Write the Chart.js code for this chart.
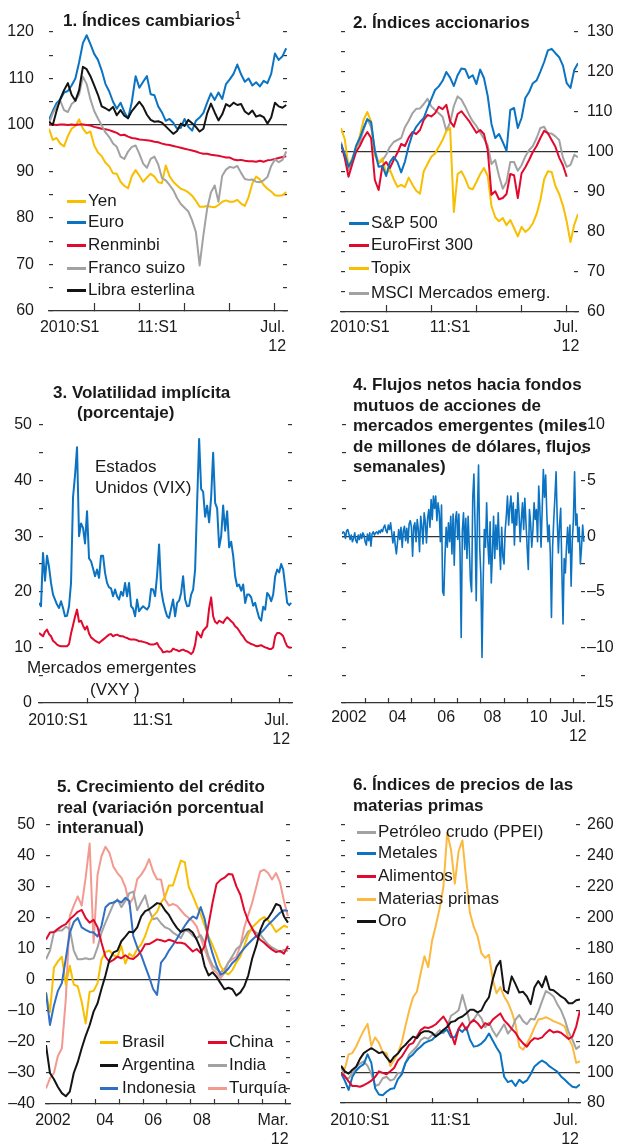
<!DOCTYPE html>
<html>
<head>
    <meta charset="utf-8">
    <title>Índices cambiarios, acciones, volatilidad, flujos, crédito y materias primas</title>
    <script src="https://cdn.jsdelivr.net/npm/chart.js"></script>
    <style>
        body { margin: 0; background: #fff; }
        #page {
            position: relative; width: 624px; height: 1148px; overflow: hidden;
            font-family: "Liberation Sans", Arial, sans-serif; color: #1a1a1a;
        }
        #page canvas { position: absolute; }
        .title { position: absolute; font-weight: bold; font-size: 17px; line-height: 20.5px; white-space: nowrap; }
        .title sup { font-size: 10px; vertical-align: 0; position: relative; top: -7px; }
        .note { position: absolute; font-size: 17px; line-height: 20px; height: 20px; white-space: nowrap; }
        .key { position: absolute; font-size: 17px; line-height: 20px; height: 20px; white-space: nowrap; }
        .key i { position: absolute; left: 0; top: 8.5px; height: 3px; }
    </style>
</head>
<body>
<div id="page">
    <canvas id="c1" width="312" height="370" style="left:0;top:0"></canvas>
    <canvas id="c2" width="312" height="370" style="left:312px;top:0"></canvas>
    <canvas id="c3" width="312" height="390" style="left:0;top:370px"></canvas>
    <canvas id="c4" width="312" height="390" style="left:312px;top:370px"></canvas>
    <canvas id="c5" width="312" height="388" style="left:0;top:760px"></canvas>
    <canvas id="c6" width="312" height="388" style="left:312px;top:760px"></canvas>

    <div class="title" style="left:63px;top:11px">1. Índices cambiarios<sup>1</sup></div>
    <div class="title" style="left:353px;top:13px">2. Índices accionarios</div>
    <div class="title" style="left:53px;top:383px">3. Volatilidad implícita</div>
    <div class="title" style="left:77px;top:403px">(porcentaje)</div>
    <div class="title" style="left:353px;top:375px">4. Flujos netos hacia fondos<br>mutuos de acciones de<br>mercados emergentes (miles<br>de millones de dólares, flujos<br>semanales)</div>
    <div class="title" style="left:57px;top:777px">5. Crecimiento del crédito<br>real (variación porcentual<br>interanual)</div>
    <div class="title" style="left:353px;top:775px">6. Índices de precios de las<br>materias primas</div>

    <div class="note" style="left:95px;top:457px">Estados</div>
    <div class="note" style="left:95px;top:478px">Unidos (VIX)</div>
    <div class="note" style="left:27px;top:658px">Mercados emergentes</div>
    <div class="note" style="left:90px;top:680px">(VXY )</div>

    <div class="key" style="left:67px;top:191px"><i style="width:19px;background:#F8BE00"></i><span style="margin-left:21px">Yen</span></div>
    <div class="key" style="left:67px;top:212px"><i style="width:19px;background:#0B73C2"></i><span style="margin-left:21px">Euro</span></div>
    <div class="key" style="left:67px;top:235px"><i style="width:19px;background:#E2092E"></i><span style="margin-left:21px">Renminbi</span></div>
    <div class="key" style="left:67px;top:258px"><i style="width:19px;background:#A2A2A2"></i><span style="margin-left:21px">Franco suizo</span></div>
    <div class="key" style="left:67px;top:280px"><i style="width:19px;background:#141414"></i><span style="margin-left:21px">Libra esterlina</span></div>

    <div class="key" style="left:349px;top:213px"><i style="width:20px;background:#0B73C2"></i><span style="margin-left:22px">S&amp;P 500</span></div>
    <div class="key" style="left:349px;top:235px"><i style="width:20px;background:#E2092E"></i><span style="margin-left:22px">EuroFirst 300</span></div>
    <div class="key" style="left:349px;top:258px"><i style="width:20px;background:#F8BE00"></i><span style="margin-left:22px">Topix</span></div>
    <div class="key" style="left:349px;top:283px"><i style="width:20px;background:#A2A2A2"></i><span style="margin-left:22px">MSCI Mercados emerg.</span></div>

    <div class="key" style="left:100px;top:1032px"><i style="width:18px;background:#F8BE00"></i><span style="margin-left:22px">Brasil</span></div>
    <div class="key" style="left:100px;top:1055px"><i style="width:18px;background:#141414"></i><span style="margin-left:22px">Argentina</span></div>
    <div class="key" style="left:100px;top:1078px"><i style="width:18px;background:#2F6FC4"></i><span style="margin-left:22px">Indonesia</span></div>
    <div class="key" style="left:208px;top:1032px"><i style="width:19px;background:#E2092E"></i><span style="margin-left:21px">China</span></div>
    <div class="key" style="left:208px;top:1055px"><i style="width:19px;background:#A2A2A2"></i><span style="margin-left:21px">India</span></div>
    <div class="key" style="left:208px;top:1078px"><i style="width:19px;background:#F39A90"></i><span style="margin-left:21px">Turquía</span></div>

    <div class="key" style="left:357px;top:822px"><i style="width:19px;background:#A2A2A2"></i><span style="margin-left:21px">Petróleo crudo (PPEI)</span></div>
    <div class="key" style="left:357px;top:843px"><i style="width:19px;background:#0B73C2"></i><span style="margin-left:21px">Metales</span></div>
    <div class="key" style="left:357px;top:866px"><i style="width:19px;background:#E2092E"></i><span style="margin-left:21px">Alimentos</span></div>
    <div class="key" style="left:357px;top:889px"><i style="width:19px;background:#FCB940"></i><span style="margin-left:21px">Materias primas</span></div>
    <div class="key" style="left:357px;top:911px"><i style="width:19px;background:#141414"></i><span style="margin-left:21px">Oro</span></div>
</div>
<script>
    const FONT = '"Liberation Sans", Arial, sans-serif';
    const INK = '#1a1a1a';
    const AXIS = '#333333';
    const YELLOW = '#F8BE00', BLUE = '#0B73C2', RED = '#E2092E', GREY = '#A2A2A2', BLACK = '#141414';
    const SALMON = '#F39A90', BLUE5 = '#2F6FC4', ORANGE6 = '#FCB940';

    // x positions: months since January 2010 (panels 1, 2, 6 every half month, panel 3 every quarter)
    const halfMonths = Array.from({ length: 64 }, (_, i) => i / 2);
    const quarterMonths = Array.from({ length: 127 }, (_, i) => i / 4);
    // panel 4: years from 2002, roughly every 2.5 weeks
    const flowDates = Array.from({ length: 210 }, (_, i) => 2002 + i * 0.05);
    // panel 5: every second month from December 2001
    const creditDates = Array.from({ length: 62 }, (_, i) => 2001.917 + i / 6);

    const halfYearTicks = [6, 12, 18, 24, 30];
    const yearTicks = [2003, 2004, 2005, 2006, 2007, 2008, 2009, 2010, 2011, 2012];
    const semLabels = ['2010:S1', '11:S1', ['Jul.', '  12']];
    const flowLabels = ['2002', '04', '06', '08', '10', ['Jul.', '  12']];
    const creditLabels = ['2002', '04', '06', '08', ['Mar.', '   12']];

    // 1. exchange rates
    const fxYen = [99.2, 96.8, 97.2, 96, 95.4, 97.6, 99.2, 99.8, 101.2, 99.2,
        98.2, 98.6, 95.6, 94.1, 93.3, 91.9, 91.1, 89.6, 89.5, 87.8,
        86.9, 86.4, 89, 90.3, 89.1, 87.8, 88.7, 89.5, 88.9, 87.7,
        87.5, 91.3, 89, 87.8, 87, 86.3, 86, 85.5, 84.8, 83.7,
        82.4, 82.4, 82.6, 82.4, 82.3, 82.8, 83.5, 83.8, 83.5, 83.5,
        83.9, 83.1, 82.6, 84.5, 87.4, 88.9, 88.3, 87.1, 86.3, 85.7,
        84.9, 84.8, 84.9, 85.6];
    const fxEuro = [101.1, 103.0, 104.7, 105.5, 107.0, 107.3, 108.5, 110.0, 113.5, 117.6,
        119.3, 117.4, 115.3, 114.0, 111.7, 108.8, 107.2, 105.0, 103.5, 104.8,
        102.8, 101.4, 105.0, 110.5, 108.0, 109.3, 110.5, 106.6, 106.4, 104.0,
        102.7, 100.9, 101.3, 100.5, 99.2, 99.4, 101.3, 99.6, 98.8, 100.9,
        101.6, 102.6, 104.8, 106.8, 105.4, 107.0, 105.6, 108.8, 109.8, 111.0,
        113.0, 110.9, 109.3, 110.0, 108.5, 109.2, 108.3, 109.5, 109.0, 111.0,
        115.4, 114.0, 114.8, 116.5];
    const fxRenminbi = [100.1, 100.1, 100.0, 100.1, 100.1, 100.0, 100.1, 100.0, 100.1, 100.1,
        100.0, 99.9, 99.6, 99.4, 99.2, 99.1, 98.9, 98.6, 98.3, 97.8,
        97.9, 97.5, 97.2, 97.1, 96.9, 96.8, 96.7, 96.6, 96.4, 96.3,
        96.0, 95.8, 95.7, 95.5, 95.3, 95.1, 94.9, 94.7, 94.5, 94.3,
        94.0, 93.8, 93.8, 93.6, 93.5, 93.4, 93.2, 93.0, 93.0, 92.6,
        92.4, 92.5, 92.3, 92.2, 92.2, 92.1, 92.3, 92.1, 92.4, 92.5,
        92.7, 92.9, 93.1, 93.3];
    const fxFranco = [100.4, 102.5, 104, 105.2, 103.2, 102.8, 104.5, 105.2, 106.6, 110.4,
        108.8, 105.5, 103, 101.4, 99.9, 98.4, 97.4, 96, 95.3, 93.2,
        92.7, 94.3, 95.3, 95.6, 93.8, 91.7, 90.8, 92.7, 93.2, 91.5,
        88.6, 88.1, 87.1, 86, 84.3, 83, 82.2, 81.4, 79.5, 77,
        69.8, 76.3, 82, 85.5, 87, 83.5, 89.1, 90.4, 91, 90.8,
        91.2, 89.7, 88.4, 88.2, 88.3, 87.8, 87.7, 88.1, 88.8, 91.2,
        92.6, 92, 92.5, 94.3];
    const fxLibra = [100.7, 100.0, 103.0, 105.6, 107.5, 109, 106.5, 105.2, 107.5, 112.5,
        112.0, 110.5, 108.5, 106.5, 104, 103.6, 103.1, 103.9, 102.1, 103.2,
        102, 101.5, 103, 104, 105, 103.9, 102.2, 101.1, 100.7, 100.8,
        100.5, 99.7, 98.9, 98.1, 98.7, 100.3, 99.8, 101.1, 100.4, 99.6,
        98.6, 99.2, 102.5, 104.6, 102.7, 101, 102.3, 104.5, 104, 104.8,
        104.3, 104.5, 102.9, 102.3, 103.1, 101.8, 102.1, 101.7, 100.3, 101.6,
        104.8, 104, 103.7, 104.3];

    // 2. equity indices
    const eqSP500 = [102, 99.5, 96.3, 98, 101.5, 103.5, 106, 108.2, 107.5, 100.2,
        96.3, 96.5, 94, 97.5, 98.8, 97.5, 94.9, 97.6, 101.5, 104.5,
        106.3, 107.5, 108.5, 111, 113.2, 115.5, 116.4, 117.8, 120, 118.6,
        116.5, 119.2, 120.9, 120.7, 118.5, 119.2, 117, 120.6, 118.5, 114,
        107, 103.5, 104.5, 102.5, 100.3, 110.5, 111, 106, 108.5, 113.5,
        115, 117.2, 117.9, 120.1, 122.5, 125.4, 125.8, 124.7, 123.7, 121.6,
        117.2, 116, 120.5, 122.2];
    const eqEuroFirst = [102, 98.5, 93.8, 97, 100, 101.5, 103.5, 105, 103.5, 93,
        90.5, 96.5, 97.5, 96, 98, 99.8, 102, 101.5, 103.6, 105,
        104.5, 105.5, 108, 109.3, 108.9, 109.7, 111.3, 110.7, 111.8, 107.7,
        106.3, 109.5, 110.2, 109, 107.8, 106.3, 104.8, 105.5, 104.5, 100.5,
        89.3, 90.2, 88.2, 88.5, 89.5, 94.5, 94.2, 88.5, 94.7, 96.2,
        98, 100, 101.5, 103.5, 105.3, 104.7, 103, 101.3, 98.6, 96.7,
        93.8, null, null, null];
    const eqTopix = [106, 103.2, 96.3, 98.5, 101, 104, 108, 110, 107.6, 99.2,
        97.3, 98.4, 94.5, 95.6, 93.2, 91.3, 91.8, 91.2, 93.6, 91.8,
        90.3, 89.6, 95.2, 97, 98.8, 99.6, 101.3, 103, 105.2, 106,
        85, 94.5, 95.2, 93.4, 91, 90.7, 92.5, 94.5, 96, 94,
        86.5, 83.7, 82.7, 83.5, 81.7, 83, 81, 78.9, 81.3, 80,
        80.8, 82.2, 84.5, 88, 93.2, 95.2, 95, 91.5, 89.5, 86.6,
        82.6, 77.5, 81.8, 84.5];
    const eqMSCI = [102.5, 99, 95.5, 97.8, 101, 102.5, 105.5, 108.3, 106.2, 100.5,
        97.2, 97.9, 99.3, 101.3, 102.5, 103, 103.5, 106.2, 107.8, 109.7,
        110.8, 110.9, 112, 113.3, 111.4, 110.5, 109.7, 108.8, 105.3, 107.3,
        111.5, 113.9, 113.1, 111.4, 109.4, 107.7, 106.5, 104.9, 103.3, 101.6,
        97, 98, 94, 90.8, 92.5, 97.5, 97.5, 95.3, 96.7, 98.9,
        100.5, 101.5, 103.5, 106, 106.3, 104.6, 104.6, 103.9, 103, 98.6,
        96.3, 96.8, 99.3, 98.7];

    // 3. implied volatility
    const volVIX = [18, 17.4, 27, 22, 26.5, 24.5, 21.6, 19.5, 18.6, 17.7,
        17.1, 18.3, 17.1, 15.6, 15.7, 17.4, 21.6, 37, 41, 46,
        30, 32.3, 31.5, 28.7, 34.5, 26, 25.5, 24.2, 22.8, 24,
        22.5, 26.5, 26.5, 23.4, 21.6, 20.8, 20.6, 19.2, 20.4, 19.2,
        18.6, 20, 19.3, 21.6, 19.2, 21.6, 17.4, 17, 15.6, 18.6,
        16.5, 17, 17.4, 17.1, 16.8, 17.4, 20.5, 20.4, 19.2, 23,
        28.5, 20.5, 18.3, 16.8, 15.6, 15.3, 17, 18.6, 15.6, 18,
        18.4, 19.8, 22.8, 18.6, 17.4, 17.5, 19.5, 20.4, 24, 36,
        47.5, 38.5, 38, 33.5, 35.5, 32.5, 37, 45, 36, 35,
        28, 30, 35.5, 31, 34.5, 28, 29, 26.5, 22.8, 21,
        21.3, 20.2, 21.3, 18, 19.5, 19.5, 19, 17.5, 18, 16.6,
        15.3, 14.8, 17.3, 16.8, 19.8, 19.3, 18.3, 19.5, 22.8, 24,
        23.5, 25, 24, 21, 18, 17.6, 18];
    const volVXY = [12.6, 12.3, 12.0, 12.8, 13.2, 12.4, 12, 11.2, 10.9, 10.5,
        10.3, 10.2, 10.2, 10.2, 10.2, 10.6, 12.5, 14, 15.5, 16.8,
        14.6, 14.8, 13.9, 13.2, 13.8, 12.5, 11.8, 11.5, 11.2, 11,
        10.8, 11.1, 11.4, 11.7, 12, 12.3, 12.4, 12, 12.2, 12.3,
        12.1, 12, 12, 11.8, 11.7, 11.5, 11.4, 11.4, 11.4, 11.3,
        11.1, 11.1, 11, 10.9, 10.8, 10.6, 10.5, 10.5, 10.6, 10.8,
        10.1, 9.7, 9.1, 9.2, 9.3, 9.2, 9.3, 9.8, 9.6, 9.5,
        9.3, 9.5, 9.6, 9.4, 9.3, 9.1, 8.8, 9.2, 10.5, 12.8,
        12.3, 11.8, 13, 13.4, 13.8, 17, 19, 15.6, 14.6, 14.3,
        14.8, 14.6, 14.4, 15, 15.4, 15.1, 14.7, 14.4, 13.8, 13.5,
        13, 12.4, 12, 11.4, 11, 10.8, 10.6, 10.5, 10.3, 10.2,
        10.3, 10.4, 10.2, 10, 9.9, 9.7, 9.7, 10, 12, 12.6,
        12.6, 12.4, 12, 11, 10.2, 10, 10];

    // 4. net flows into EM equity funds
    const emFlows = [
        0.2, 0.4, 0.3, -0.2, 0.5, 0.6, 0.2, -0.3, 0.1, -0.5, -0.2, 0.3, -0.4, -0.6, 0.1, -0.3, 0.2, -0.2, 0.3, 0.1,
        -0.5, -0.8, 0.2, -0.4, 0.3, -0.9, 0.2, 0.4, 0.1, 0.3, 0.4, 0.2, 0.5, 0.3, 0.6, 0.4, 0.8, 1.0, 0.5, 0.3,
        1.0, 0.6, 1.2, 0.3, -0.6, 0.4, -0.8, -1.6, -0.5, 0.6, -0.3, 0.8, -1.0, 0.5, 0.9, -0.4, 0.7, -0.6, 1.1, 1.4,
        0.8, -1.8, 0.9, 1.2, -0.5, 1.5, 0.6, -1.4, 1.8, 0.9, -0.7, 2.1, 1.3, -0.6, 1.6, 2.4, 0.8, 3.3, 1.5, 3.6,
        2.5, 3.6, 1.4, 3.0, 2.2, -0.5, 2.8, -5.0, -5.3, -1.8, 0.8, -1.0, 1.2, -0.5, 1.8, -1.6, 2.0, -2.6, 1.5, 2.2,
        -0.3, 2.0, -1.5, -9.1, 0.5, 2.1, -1.2, 1.6, -2.0, 1.8, -1.0, -4.0, -5.0, 3.5, 5.6, 0.8, -5.8, 2.0, 6.4, -1.0,
        -3.5, -10.9, -4.0, 0.6, -1.0, 3.0, -0.5, -2.5, 1.3, -4.2, -1.5, 1.8, -2.0, 1.0, -1.2, 2.1, -0.8, -3.0, 0.8, -1.8,
        -2.5, 0.5, 1.8, 3.6, 1.0, 2.6, 3.6, 1.2, 3.0, -0.8, 2.4, 1.0, 3.9, 2.0, -0.5, 1.5, 3.0, 0.6, 3.4, 1.2,
        -1.0, -3.0, 2.4, 1.2, -1.0, 0.6, 3.0, 1.5, 2.4, -0.5, 4.5, 2.5, -1.0, 2.4, 6.0, 3.5, 5.5, 2.0, -0.5, 1.0,
        -1.5, -7.3, -1.0, 1.5, 3.5, 5.8, 1.5, -1.5, 1.0, 2.5, -3.0, -7.9, -2.0, -3.3, -1.0, 0.8, -1.5, 1.0, -4.5, -0.5,
        1.5, 5.8, 1.0, 2.0, -0.5, 0.8, -2.5, -1.0, 1.0, -0.5];

    // 5. real credit growth
    const crBrasil = [-4, -10.4, 4, 6, 7.5, -1.5, 4.6, -1.5, -2, -7,
        -14, -3.8, -3.5, -1, 6.7, 9, 9.5, 8, 7.5, 11,
        5.3, 8.5, 7.5, 10, 11.5, 14.2, 18, 20.6, 22, 25,
        26.8, 30.5, 30.5, 34.5, 38.5, 38, 30, 27.2, 24, 21.2,
        17.5, 14, 11.2, 8, 4.5, 2.5, 1.8, 3.2, 5.7, 7.6,
        11, 14.7, 17, 18.2, 19.5, 20.3, 19.2, 17.6, 15.5, 16.5,
        17.5, 17];
    const crArgentina = [-21, -30, -32, -34.5, -36.5, -37.5, -36, -30, -26.5, -22,
        -18, -14.6, -10.2, -7.5, -2.8, 1.5, 6.5, 8.9, 9.5, 12.5,
        14, 15.6, 15.4, 17, 20.5, 22.2, 22.8, 23.8, 24.8, 24.5,
        22.5, 21, 18.7, 16.8, 15.5, 16.2, 16.4, 15.3, 13, 10,
        4.5, 1.5, 2.5, 1, -1, -3, -2.5, -3, -5, -4,
        -2, 1.5, 7, 11, 16, 19, 20, 22, 24.5, 24,
        20.5, 18.5];
    const crChina = [13.1, 15.3, 15.5, 16.5, 17.4, 18, 19.6, 20.7, 22, 22.6,
        20, 18.5, 19.4, 17, 12, 7.5, 5.8, 6.5, 7.5, 7,
        8, 7, 6.8, 7.8, 9.3, 11.5, 11.6, 12.3, 13.1, 12.8,
        12.4, 13, 12.6, 12, 12, 11.7, 10.5, 9.2, 10, 8.7,
        11, 18, 25, 31, 32.3, 33, 34.2, 34, 30.2, 27.5,
        22.5, 19, 16.6, 14.2, 13, 12, 10.8, 9.8, 9, 9.4,
        8.5, 11];
    const crIndia = [6.7, 9.5, 15.3, 16, 16, 17.2, 16.5, 9.5, 6.7, 6.7,
        7, 6.7, 7, 10.5, 15.3, 18.5, 21.5, 24.5, 26, 23.5,
        25.5, 28, 28.5, 22.5, 25, 27.3, 22.5, 19.6, 20, 18.3,
        17, 16.5, 15.3, 14.5, 13.5, 16, 15.6, 14.3, 13.5, 14.5,
        12, 7.5, 4.7, 3.5, 2.5, 3.5, 5.7, 7.7, 10, 11,
        13.5, 15.7, 16.3, 15.3, 14.7, 13, 11.5, 10.5, 9.8, 9,
        9.7, 9.3];
    const crIndonesia = [-4, -14.5, -8.2, -3.5, -1, 7, 15.3, 18.7, 20, 17,
        16.2, 15.5, 15.3, 14, 17.5, 23.5, 24.7, 25, 25.7, 25,
        26.5, 25.5, 14.2, 10.6, 8, 4.5, 1, -2.9, -4.8, 5.6,
        7.2, 9.5, 11.3, 13.3, 15.5, 17.5, 19.3, 20.5, 19.8, 23.5,
        19.7, 13, 8.5, 4.6, 1.7, 2.4, 3.7, 5.5, 6.7, 8.7,
        10.3, 11.7, 13, 14.2, 15, 16.3, 17.8, 19, 20.4, 21.7,
        22.5, 22.3];
    const crTurquia = [-35, -31.7, -30, -24.5, -22, -6, 20.6, 24, 27, 24,
        33, 44, 12, 34, 40, 43, 41, 36.5, 34.5, 33,
        30, 24.5, 26.5, 32.5, 34, 36, 39, 35, 32.5, 32.4,
        26, 24, 24.5, 24, 22.5, 21, 20, 19, 17.2, 13.5,
        10, 6.5, 3.5, 2.4, 0.6, 2.4, 5.7, 6.7, 7.5, 11,
        17, 21, 25, 30, 35, 35.6, 34.5, 32.4, 34.5, 31.5,
        25.5, 20.6];

    // 6. commodity prices
    const cmPetroleo = [104.5, 96, 96, 99.3, 103.3, 105.5, 107, 104, 99, 91,
        92, 96, 97, 94.5, 95.5, 99.5, 99, 106, 111.5, 114,
        116.6, 120.7, 122.4, 121.5, 124, 124.5, 127.2, 125.2, 129.8, 136.5,
        138.1, 140, 150, 141, 132, 134, 138, 135, 129, 132,
        127, 123, 127, 131, 125, 128, 134, 137, 133, 131,
        134.5, 134, 139, 146, 152.5, 151, 149, 144, 140, 134,
        126, 121, 115, 117];
    const cmMetales = [99.4, 94.5, 88.5, 97, 101, 103.5, 105.2, 111.5, 106, 89.5,
        85.5, 85, 87.3, 89, 89.5, 95.5, 98.5, 106, 109.5, 111.5,
        114.4, 116.4, 118.8, 120, 120.9, 123.4, 125, 126.3, 127.4, 122.5,
        122.5, 128, 126, 129, 121, 116.5, 117, 118.5, 121, 125,
        120.5, 116, 112, 97, 93.5, 94.5, 91, 95, 93, 94.6,
        98.6, 103.7, 105.8, 107.5, 106, 103.7, 102, 100.3, 97.2, 95,
        92.6, 90.5, 90, 92];
    const cmAlimentos = [99.4, 97.5, 94, 91, 91, 90.5, 91.5, 92.9, 94.5, 96.8,
        100.5, 99.5, 98.6, 100.6, 102.7, 107.5, 110, 114, 117.8, 118.8,
        123, 127.2, 129, 128.5, 129.5, 131, 133.5, 136, 132, 125,
        118, 128, 131.7, 127.5, 131.7, 133.8, 131.7, 128.5, 131.7, 130.5,
        134, 136, 138, 133.5, 131, 128, 125.5, 121.5, 118.6, 116.5,
        120, 122, 121.5, 122.5, 125.2, 127.4, 125.7, 126.3, 125.5, 123.5,
        121.5, 123, 129.5, 140];
    const cmMaterias = [104, 102, 111.5, 112.3, 116.6, 122, 127, 131.2, 117, 122.5,
        119, 113, 112.3, 104, 107.8, 112.3, 119, 130, 140, 148.5,
        152, 164, 175, 168, 185, 195, 206, 220, 255, 244,
        222, 243, 250, 225, 203, 194, 188, 177, 174, 176,
        160, 151, 155, 149, 145, 139, 131, 116.5, 114.5, 118.5,
        123, 129, 134, 134.5, 135.5, 134.5, 133, 132, 131, 129.5,
        121.8, 117, 106, 107];
    const cmOro = [104, 100.5, 99, 101.5, 103.5, 108.6, 112.3, 114, 115.5, 114,
        112.3, 113, 109.5, 106.5, 110, 112, 115.5, 117.7, 120.5, 123,
        122, 125.2, 126.5, 126.5, 125.5, 123, 125, 127.4, 129.2, 132.5,
        133, 135, 136, 138, 140.3, 140.3, 138.7, 140, 145, 148.5,
        160, 168.3, 172, 153, 151, 162, 157, 151.5, 152, 149,
        144, 155, 159, 155, 162, 153.5, 153, 151, 149, 147.5,
        144.6, 144.6, 146.5, 147];

    function signed(v) {
        return v < 0 ? '\u2013' + Math.abs(v) : String(v);
    }

    function drawPanel(id, cfg) {
        const canvas = document.getElementById(id);
        const W = canvas.width, H = canvas.height;
        const a = cfg.area;
        const tickFont = { family: FONT, size: 16, lineHeight: 1.2 };

        function yAxis(side) {
            const labelled = side === cfg.labelSide;
            return {
                type: 'linear', position: side, min: cfg.yMin, max: cfg.yMax,
                z: side === 'left' && cfg.refOnTop ? 1 : 0,
                afterFit: s => { s.width = side === 'left' ? a.left : W - a.right; },
                grid: {
                    drawOnChartArea: side === 'left',
                    color: c => (c.tick && c.tick.value === cfg.ref ? AXIS : 'rgba(0,0,0,0)'),
                    lineWidth: 1.2,
                    tickLength: -4, tickColor: AXIS, tickWidth: 1.2
                },
                border: { display: false },
                ticks: {
                    display: labelled, stepSize: cfg.yStep, padding: cfg.yPad,
                    color: INK, font: tickFont,
                    callback: v => (v % cfg.yLabelStep === 0 ? signed(v) : '')
                }
            };
        }

        return new Chart(canvas, {
            type: 'line',
            data: {
                labels: cfg.xs,
                datasets: cfg.series.map(([values, color, width]) => ({
                    data: values, borderColor: color, borderWidth: width || 2,
                    pointRadius: 0, fill: false, tension: 0, borderJoinStyle: 'round'
                }))
            },
            options: {
                responsive: false, animation: false, devicePixelRatio: 1, events: [],
                layout: { padding: { top: a.top, left: 0, right: 0, bottom: 0 } },
                plugins: { legend: { display: false }, tooltip: { enabled: false } },
                scales: {
                    x: {
                        type: 'linear', position: 'bottom', min: cfg.xMin, max: cfg.xMax, weight: 0,
                        afterBuildTicks: s => { s.ticks = cfg.xTicks.map(v => ({ value: v })); },
                        afterFit: s => { s.height = 1; },
                        grid: { drawOnChartArea: false, tickLength: -cfg.xTickLen, tickColor: AXIS, tickWidth: 1.2 },
                        border: { display: true, color: AXIS, width: 1.3 },
                        ticks: { display: false }
                    },
                    xl: {
                        type: 'linear', position: 'bottom', min: cfg.xMin, max: cfg.xMax, weight: 1,
                        afterBuildTicks: s => { s.ticks = cfg.xLabelAt.map(v => ({ value: v })); },
                        afterFit: s => { s.height = H - a.bottom - 1; },
                        grid: { display: false, drawTicks: false },
                        border: { display: false },
                        ticks: {
                            autoSkip: false, maxRotation: 0, padding: cfg.xPad,
                            color: INK, font: tickFont,
                            callback: (v, i) => cfg.xLabels[i]
                        }
                    },
                    y: yAxis('left'),
                    yr: yAxis('right')
                }
            }
        });
    }

    drawPanel('c1', {
        area: { left: 49, right: 287, top: 32, bottom: 311 },
        xs: halfMonths, xMin: 0, xMax: 31.6, xTicks: halfYearTicks, xTickLen: 8,
        xLabelAt: [2.75, 14.4, 29.7], xLabels: semLabels, xPad: 6,
        yMin: 60, yMax: 120, yStep: 5, yLabelStep: 10, yPad: 19, labelSide: 'left', ref: 100,
        series: [[fxLibra, BLACK], [fxFranco, GREY], [fxRenminbi, RED], [fxEuro, BLUE], [fxYen, YELLOW]]
    });

    drawPanel('c2', {
        area: { left: 29, right: 266, top: 32, bottom: 312 },
        xs: halfMonths, xMin: 0, xMax: 31.5, xTicks: halfYearTicks, xTickLen: 7,
        xLabelAt: [2.5, 14.5, 29.9], xLabels: semLabels, xPad: 5,
        yMin: 60, yMax: 130, yStep: 5, yLabelStep: 10, yPad: 13, labelSide: 'right', ref: 100,
        series: [[eqSP500, BLUE], [eqEuroFirst, RED], [eqTopix, YELLOW], [eqMSCI, GREY]]
    });

    drawPanel('c3', {
        area: { left: 39, right: 292, top: 55, bottom: 333 },
        xs: quarterMonths, xMin: 0, xMax: 31.6, xTicks: halfYearTicks, xTickLen: 5,
        xLabelAt: [2.37, 14.2, 29.7], xLabels: semLabels, xPad: 7,
        yMin: 0, yMax: 50, yStep: 5, yLabelStep: 10, yPad: 11, labelSide: 'left', ref: null,
        series: [[volVIX, BLUE], [volVXY, RED]]
    });

    drawPanel('c4', {
        area: { left: 30, right: 273, top: 55, bottom: 333 },
        xs: flowDates, xMin: 2002, xMax: 2012.5, xTicks: yearTicks, xTickLen: 5,
        xLabelAt: [2002.3, 2004.4, 2006.5, 2008.5, 2010.5, 2012.0], xLabels: flowLabels, xPad: 4,
        yMin: -15, yMax: 10, yStep: 2.5, yLabelStep: 5, yPad: 6, labelSide: 'right', ref: 0, refOnTop: true,
        series: [[emFlows, BLUE, 1.6]]
    });

    drawPanel('c5', {
        area: { left: 46, right: 290, top: 65, bottom: 344 },
        xs: creditDates, xMin: 2001.917, xMax: 2012.17, xTicks: yearTicks, xTickLen: 5,
        xLabelAt: [2002.21, 2004.4, 2006.42, 2008.47, 2011.46], xLabels: creditLabels, xPad: 6,
        yMin: -40, yMax: 50, yStep: 5, yLabelStep: 10, yPad: 15, labelSide: 'left', ref: 0,
        series: [[crArgentina, BLACK], [crChina, RED], [crIndonesia, BLUE5], [crBrasil, YELLOW],
                 [crIndia, GREY], [crTurquia, SALMON]]
    });

    drawPanel('c6', {
        area: { left: 29, right: 268, top: 65, bottom: 343 },
        xs: halfMonths, xMin: 0, xMax: 31.5, xTicks: halfYearTicks, xTickLen: 5,
        xLabelAt: [2.5, 14.4, 29.6], xLabels: semLabels, xPad: 7,
        yMin: 80, yMax: 260, yStep: 10, yLabelStep: 20, yPad: 11, labelSide: 'right', ref: 100,
        series: [[cmOro, BLACK], [cmAlimentos, RED], [cmMetales, BLUE], [cmPetroleo, GREY], [cmMaterias, ORANGE6]]
    });
</script>
</body>
</html>
